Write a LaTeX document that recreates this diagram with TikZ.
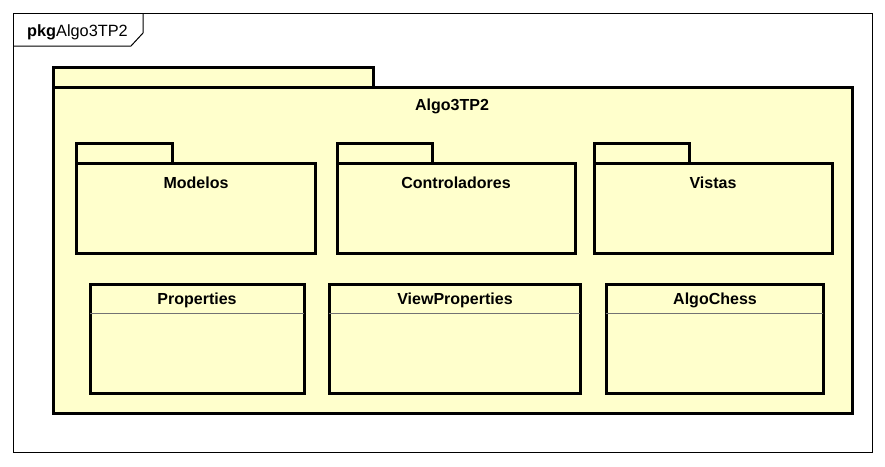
\documentclass[tikz,border=0pt]{standalone}
\usepackage{fontspec}
\setmainfont{Liberation Sans}
\usepackage{xcolor}
\definecolor{pkgyellow}{HTML}{FFFFCC}

\begin{document}
\begin{tikzpicture}[x=1pt,y=-1pt]
    \tikzstyle{pk} = [draw, line width=3pt, fill=pkgyellow]
    \tikzstyle{lbl} = [inner sep=0pt, font=\fontsize{16}{19}\selectfont\bfseries]
    \useasboundingbox (0,0) rectangle (885,466);
    % diagram frame
    \draw[line width=1pt] (13,13) rectangle (872,452);
    \draw[line width=1pt] (13,46) -- (131,46) -- (143,33) -- (143,13);
    \node[anchor=west, inner sep=0pt, font=\fontsize{16.3}{19}\selectfont] (frame) at (27,32) {\textbf{pkg}Algo3TP2};
    % package Algo3TP2
    \draw[pk] (53,67) rectangle (373,87);
    \draw[pk] (53,87) rectangle (852,413);
    \node[lbl] (algo) at (452,106) {Algo3TP2};
    % sub packages
    \draw[pk] (76,143) rectangle (172,163);
    \draw[pk] (76,163) rectangle (315,253);
    \node[lbl] (modelos) at (196,183) {Modelos};
    \draw[pk] (337,143) rectangle (432,163);
    \draw[pk] (337,163) rectangle (575,253);
    \node[lbl] (controladores) at (456,183) {Controladores};
    \draw[pk] (594,143) rectangle (689,163);
    \draw[pk] (594,163) rectangle (832,253);
    \node[lbl] (vistas) at (713,183) {Vistas};
    % classes
    \draw[pk] (90,284) rectangle (304,393);
    \draw[black!55] (90,313) -- (304,313);
    \node[lbl] (properties) at (197,300) {Properties};
    \draw[pk] (329,284) rectangle (580,393);
    \draw[black!55] (329,313) -- (580,313);
    \node[lbl] (viewprops) at (455,300) {ViewProperties};
    \draw[pk] (606,284) rectangle (823,393);
    \draw[black!55] (606,313) -- (823,313);
    \node[lbl] (algochess) at (715,300) {AlgoChess};
\end{tikzpicture}
\end{document}
